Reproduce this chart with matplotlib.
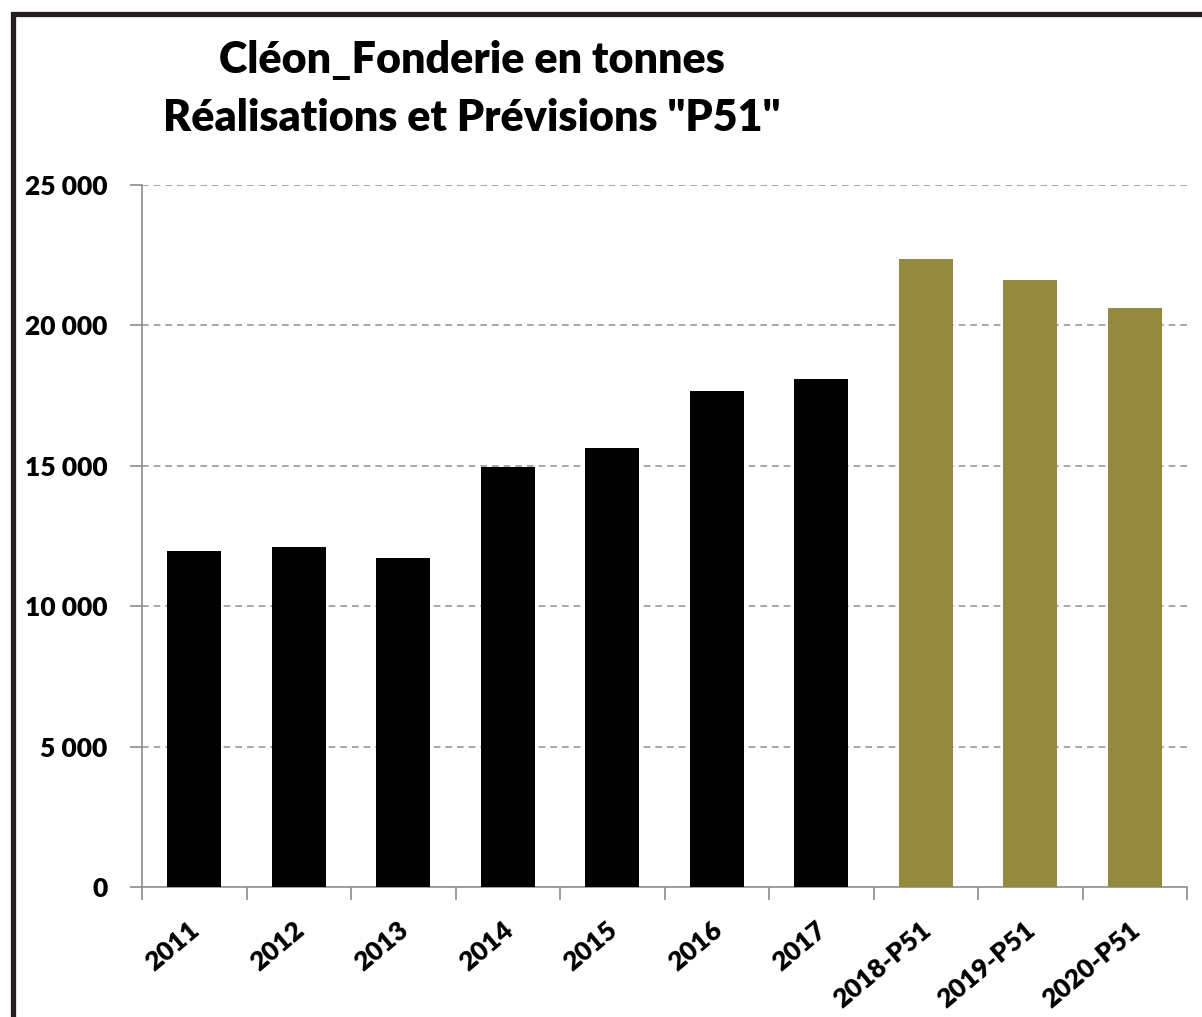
import matplotlib

matplotlib.use("Agg")
import matplotlib.pyplot as plt
from matplotlib.patches import Rectangle
import numpy as np

# values (tonnes)
years = ["2011", "2012", "2013", "2014", "2015", "2016", "2017",
         "2018-P51", "2019-P51", "2020-P51"]
tonnes = [11970, 12110, 11720, 14950, 15630, 17660, 18090,
          22370, 21620, 20620]
is_forecast = [False] * 7 + [True] * 3
y_ticks = [0, 5000, 10000, 15000, 20000, 25000]
y_labels = ["0", "5 000", "10 000", "15 000", "20 000", "25 000"]

BLACK = "#000000"
OLIVE = "#948A3F"
GRAY = "#8c8c8c"

plt.rcParams["font.family"] = ["Lato", "DejaVu Sans"]

W, H = 1202, 1017
fig = plt.figure(figsize=(W / 100, H / 100), dpi=100)

# dark frame around the chart area (runs off the right and bottom edges)
fig.patches.append(Rectangle((12.5 / W, -0.1), 1.2, 1 - 13.5 / H + 0.1,
                             transform=fig.transFigure, fill=False,
                             edgecolor="#231f20", linewidth=3.8, zorder=0))

ax = fig.add_axes([142 / W, 1 - 887 / H, (1187 - 142) / W, (887 - 185) / H])
x = np.arange(len(years))
colors = [OLIVE if f else BLACK for f in is_forecast]
ax.bar(x, tonnes, width=0.52, color=colors, zorder=3)

ax.set_xlim(-0.5, len(years) - 0.5)
ax.set_ylim(0, 25000)
ax.set_yticks(y_ticks)
ax.set_yticklabels(y_labels, fontsize=19, fontweight="heavy")
ax.yaxis.grid(True, linestyle=(0, (4, 3)), color="#999999", linewidth=1.2, zorder=0)
ax.yaxis.get_gridlines()[0].set_visible(False)

# category ticks sit between the bars
ax.set_xticks(np.arange(len(years) + 1) - 0.5)
ax.set_xticklabels([])
ax.tick_params(axis="x", length=9, width=1.2, color=GRAY, direction="out")
ax.tick_params(axis="y", length=9, width=1.2, color=GRAY, direction="out", pad=16)
for i, lab in enumerate(years):
    ax.annotate(lab, xy=(i, 0), xycoords=("data", "axes fraction"),
                xytext=(2, -40), textcoords="offset pixels",
                rotation=40, rotation_mode="anchor", ha="right", va="center",
                fontsize=19, fontweight="heavy")

for side in ("top", "right"):
    ax.spines[side].set_visible(False)
for side in ("left", "bottom"):
    ax.spines[side].set_color(GRAY)
    ax.spines[side].set_linewidth(1.2)

fig.text(472 / W, 1 - 60 / H, "Cléon_Fonderie en tonnes", ha="center",
         va="center", fontsize=31, fontweight="heavy")
fig.text(472 / W, 1 - 118 / H, 'Réalisations et Prévisions "P51"', ha="center",
         va="center", fontsize=31, fontweight="heavy")

fig.savefig("out.png", dpi=100)
plt.close(fig)
